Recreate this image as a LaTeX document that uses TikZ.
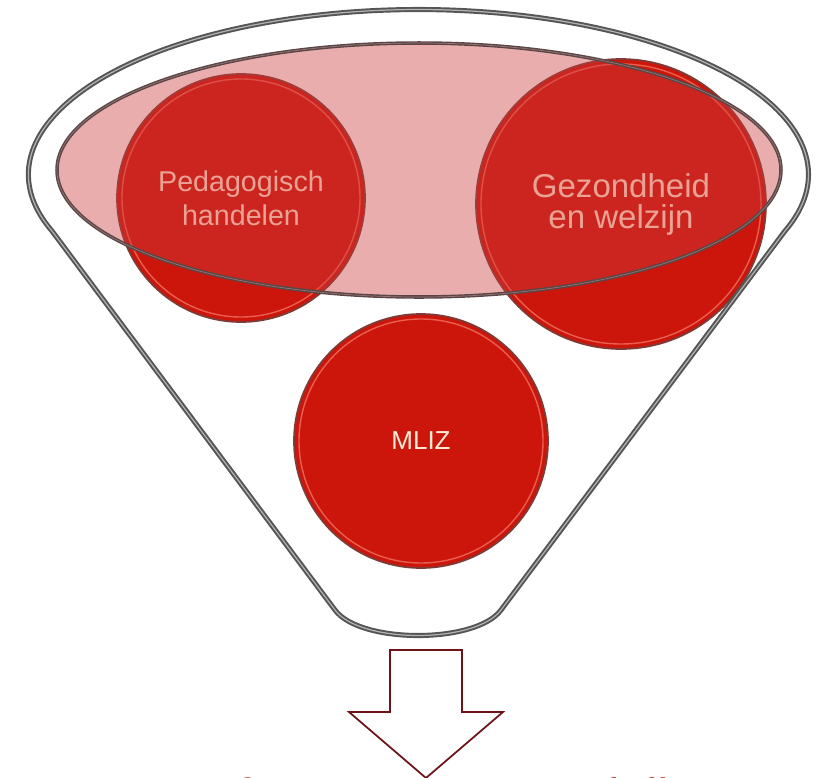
\documentclass[tikz,border=0pt]{standalone}
\usepackage{fontspec}
\setmainfont{Liberation Sans}
\usetikzlibrary{positioning}
\definecolor{bolrood}{RGB}{204,22,12}
\definecolor{bolrand}{RGB}{125,60,55}
\definecolor{bolglans}{RGB}{232,95,80}
\definecolor{boltekst}{RGB}{255,236,215}
\definecolor{komroze}{RGB}{205,60,60}
\definecolor{komrand}{RGB}{90,70,70}
\definecolor{trechter}{RGB}{85,85,85}
\definecolor{pijlrand}{RGB}{110,20,25}
\definecolor{titelrood}{RGB}{200,0,0}
\tikzset{
  bol/.style={circle, fill=bolrood, draw=bolrand, line width=1pt, inner sep=0pt,
    align=center, text=boltekst},
  glans/.style={draw=bolglans, line width=0.8pt},
  kom/.style={fill=komroze, fill opacity=0.42},
  komlijn/.style={draw=komrand, line width=0.8pt, double={rgb,255:red,150;green,115;blue,115}, double distance=0.4pt},
  rand/.style={draw=trechter, line width=1.1pt, double=gray!60, double distance=0.7pt, line join=round},
  pijl/.style={draw=pijlrand, fill=white, line width=1pt, line join=miter},
  titel/.style={text=titelrood, font=\fontsize{29.6}{32}\selectfont, inner sep=0pt}
}

\begin{document}
\begin{tikzpicture}[x=0.02cm, y=-0.02cm]
  \useasboundingbox (0,0) rectangle (823,778);
  % Bollen
  \node[bol, minimum size=4.96cm, font=\fontsize{16.3}{19.2}\selectfont]
    (pedagogisch) at (241,198) {Pedagogisch\\handelen};
  \node[bol, minimum size=5.8cm, font=\fontsize{18.8}{17.6}\selectfont]
    (gezondheid) at (621,204) {Gezondheid\\en welzijn};
  \node[bol, minimum size=5.08cm, font=\fontsize{14.8}{17}\selectfont]
    (mliz) at (421,441) {MLIZ};
  \foreach \b/\r in {pedagogisch/119, gezondheid/140, mliz/122}
    \draw[glans] (\b.center) circle[radius=\r];
  % Kom van de trechter
  \fill[kom] (419,170) ellipse[x radius=362, y radius=127];
  \draw[komlijn] (419,170) ellipse[x radius=362, y radius=127];
  % Rand van de trechter
  \draw[rand] (335,610) -- (52,231)
    arc[start angle=160, end angle=380, x radius=390, y radius=165]
    -- (501,610) .. controls (476,644) and (360,644) .. (335,610) -- cycle;
  % Pijl naar beneden
  \draw[pijl] (390,650) -- (462,650) -- (462,712) -- (503,712) -- (426,778)
    -- (349,712) -- (390,712) -- cycle;
  % Uitkomst
  \node[titel, anchor=base] (uitkomst) at (427,815) {Perfect Ervaren Welzijn};
\end{tikzpicture}
\end{document}
